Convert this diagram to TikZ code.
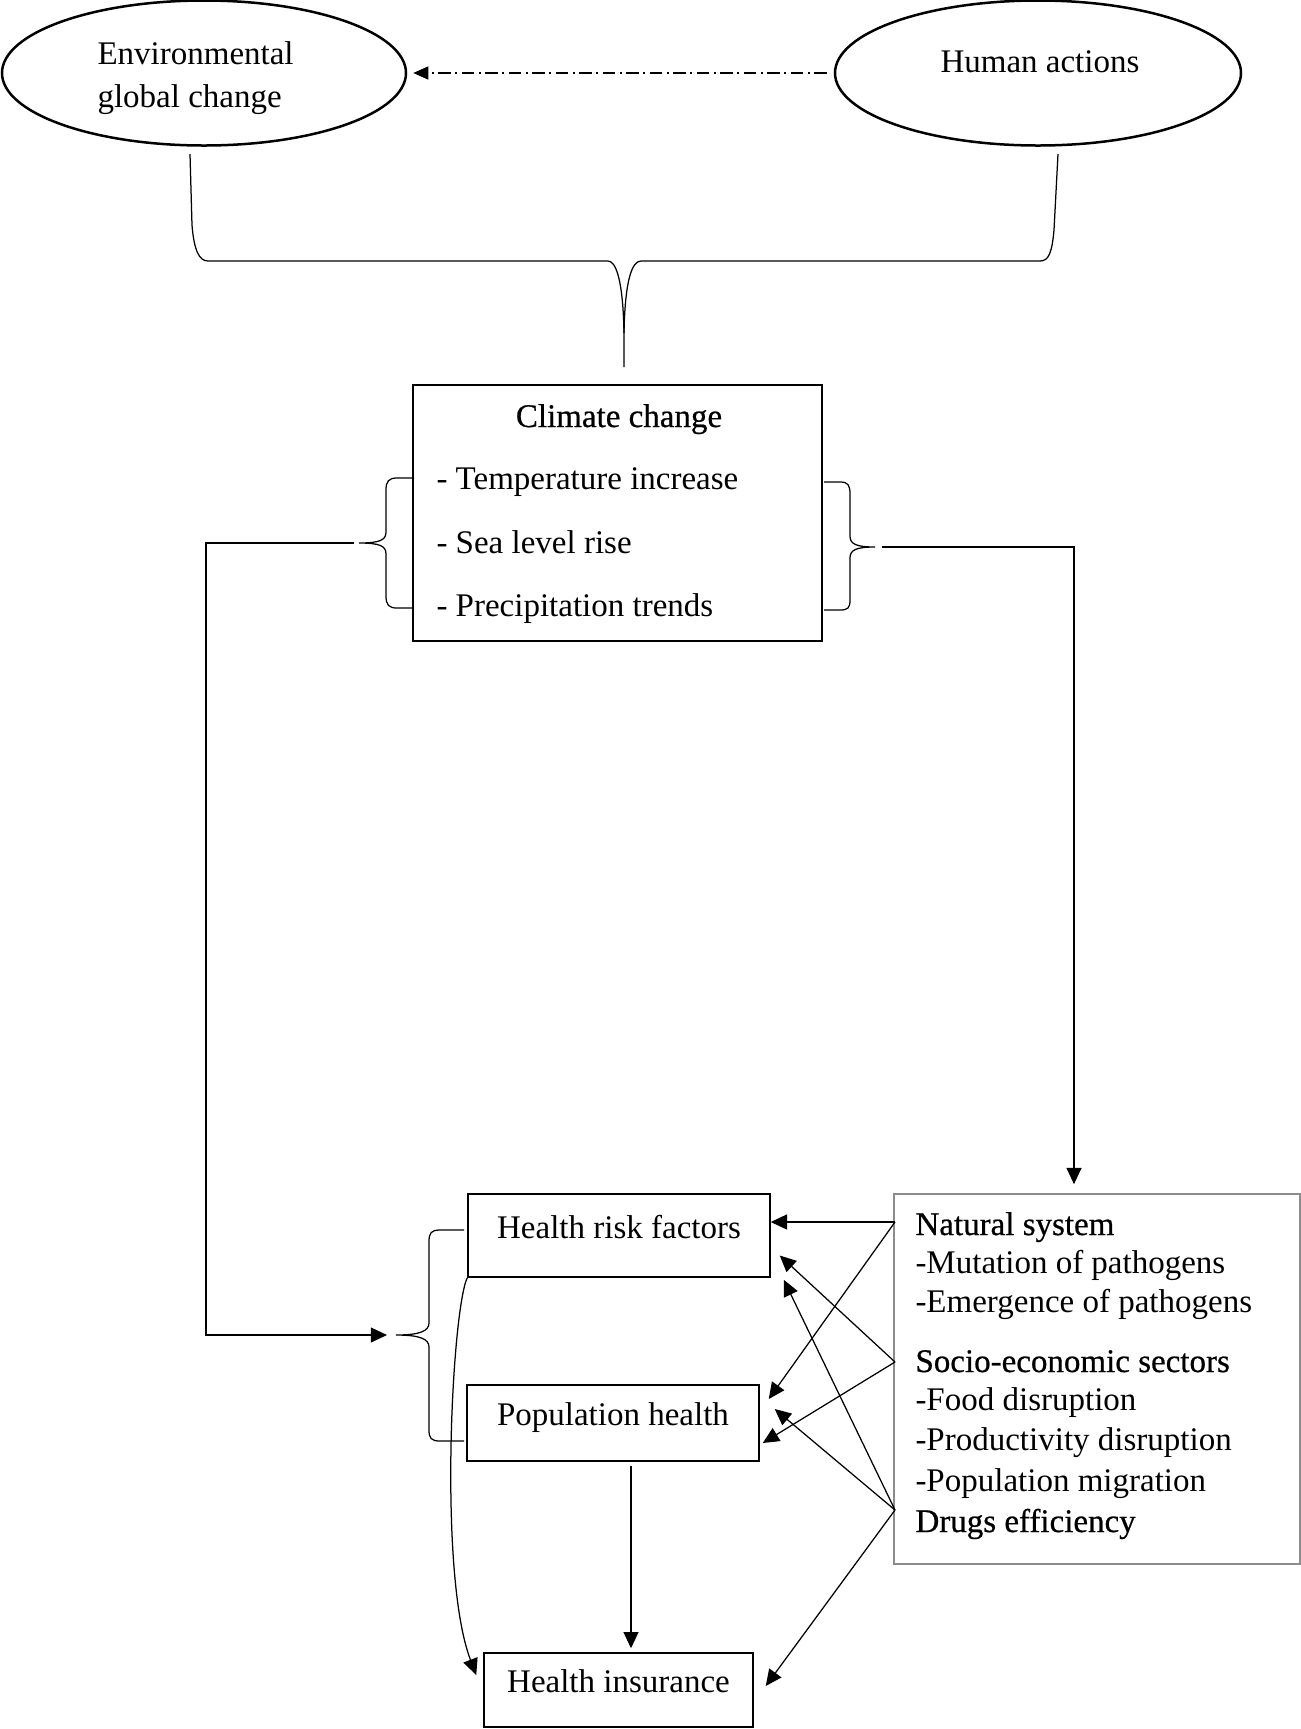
\documentclass[tikz,border=0pt]{standalone}
\usepackage{fontspec}
\setmainfont{Liberation Serif}
\newfontfamily\headfont{Liberation Serif}[FakeBold=0.6]
\usetikzlibrary{shapes.geometric,arrows.meta,calc}

\begin{document}
\begin{tikzpicture}[x=0.4pt,y=-0.4pt,
    every node/.style={font=\fontsize{13.2pt}{15.6pt}\selectfont, inner sep=0pt},
    bubble/.style={draw, line width=1pt, ellipse, minimum height=58pt},
    box/.style={draw, line width=0.6pt, text height=9pt, text depth=7pt},
    line/.style={line width=0.5pt},
    arr/.style={line width=0.5pt, -{Triangle[length=6.5pt,width=6pt]}},
    dotarr/.style={line width=0.5pt, dash pattern=on 5pt off 1.8pt on 0.8pt off 1.8pt,
      -{Triangle[length=6pt,width=5.2pt]}}]
  \useasboundingbox (0,0) rectangle (1301,1729);

  % top: the two causes
  \node[bubble, minimum width=161.6pt] (env) at (204,73) {};
  \node[anchor=base west, align=left] (envtext) at (97,107) {Environmental\\[1.3pt]global change};
  \node[bubble, minimum width=162.4pt] (hum) at (1038,73) {};
  \node[anchor=base west] (humtext) at (940,72) {Human actions};
  \draw[dotarr, shorten <=2.8pt, shorten >=2.4pt] (hum.west) -- (env.east);

  % brace down to climate change
  \draw[line] (190,154) -- (192,225) .. controls (194,250) and (199,261) .. (208,261)
    -- (608,261) .. controls (616,261) and (623,280) .. (624,333) -- (624,367);
  \draw[line] (624,333) .. controls (625,280) and (632,261) .. (641,261)
    -- (1040,261) .. controls (1049,261) and (1052,252) .. (1054,230) -- (1058,154);

  % climate change
  \node[draw, line width=0.7pt, minimum width=163.6pt, minimum height=102.4pt] (clim) at (617.5,513) {};
  \node[anchor=base] (climtitle) at (619,427) {\headfont Climate change};
  \node[anchor=base west] (temp) at (436,489) {- Temperature increase};
  \node[anchor=base west] (sea) at (436,553) {- Sea level rise};
  \node[anchor=base west] (prec) at (436,616) {- Precipitation trends};

  \draw[line] (414,478) -- (397,478) .. controls (389,478) and (386,481) .. (386,490)
    -- (386,532) .. controls (386,540) and (380,543) .. (359,543)
    .. controls (380,543) and (386,546) .. (386,554) -- (386,596)
    .. controls (386,605) and (389,608) .. (397,608) -- (414,608);
  \draw[line] (824,482) -- (840,482) .. controls (848,482) and (850,485) .. (850,494)
    -- (850,536) .. controls (850,544) and (856,547) .. (875,547)
    .. controls (856,547) and (850,550) .. (850,558) -- (850,600)
    .. controls (850,608) and (848,610) .. (840,610) -- (824,610);
  \coordinate (lbr) at (359,543);
  \coordinate (rbr) at (875,547);

  % health side
  \node[box, minimum width=120.8pt, minimum height=33.2pt] (hrf) at (619,1235.5) {Health risk factors};
  \node[box, minimum width=116.8pt, minimum height=30.4pt] (pop) at (613,1423) {Population health};
  \node[box, minimum width=107.6pt, minimum height=29.6pt] (ins) at (618.5,1690) {Health insurance};

  \draw[line] (464,1230) -- (440,1230) .. controls (431,1230) and (429,1233) .. (429,1242)
    -- (429,1323) .. controls (429,1331) and (420,1335) .. (396,1335)
    .. controls (420,1335) and (429,1339) .. (429,1347) -- (429,1430)
    .. controls (429,1438) and (431,1441) .. (440,1441) -- (464,1441);
  \coordinate (bbr) at (396,1335);

  % drivers
  \node[draw=black!45, line width=0.7pt, minimum width=162.4pt, minimum height=148pt] (drv) at (1097,1379) {};
  \node[anchor=base west] (nat) at (915,1235) {\headfont Natural system};
  \node[anchor=base west] (mut) at (915,1273) {-Mutation of pathogens};
  \node[anchor=base west] (emer) at (915,1312) {-Emergence of pathogens};
  \node[anchor=base west] (soc) at (915,1372) {\headfont Socio-economic sectors};
  \node[anchor=base west] (food) at (915,1410) {-Food disruption};
  \node[anchor=base west] (prod) at (915,1450) {-Productivity disruption};
  \node[anchor=base west] (migr) at (915,1491) {-Population migration};
  \node[anchor=base west] (drug) at (915,1532) {\headfont Drugs efficiency};
  \coordinate (ns) at (895,1222);
  \coordinate (ss) at (895,1362);
  \coordinate (ds) at (895,1510);

  % connectors
  \draw[arr, shorten <=2pt, shorten >=3.6pt] (lbr) -- ++(-153,0) |- (bbr);
  \draw[arr, shorten <=2.8pt, shorten >=3.6pt] (rbr) -| ($(drv.north)+(-23,0)$);

  \draw[arr] (ns) -- (ns -| hrf.east);
  \draw[arr] (ns) -- ($(pop.east)+(9,-24)$);
  \draw[arr] (ss) -- ($(hrf.east)+(9,20)$);
  \draw[arr] (ss) -- ($(pop.east)+(3,20)$);
  \draw[arr] (ds) -- ($(hrf.south east)+(13,2)$);
  \draw[arr] (ds) -- ($(pop.east)+(15,-14)$);
  \draw[arr] (ds) -- ($(ins.east)+(12,-4)$);

  \draw[arr] ($(pop.south)+(18,4)$) -- ($(ins.north)+(12.5,-4)$);
  \draw[arr] (hrf.south west) .. controls (452,1310) and (438,1575) .. ($(ins.west)+(-7,-15)$);
\end{tikzpicture}
\end{document}
